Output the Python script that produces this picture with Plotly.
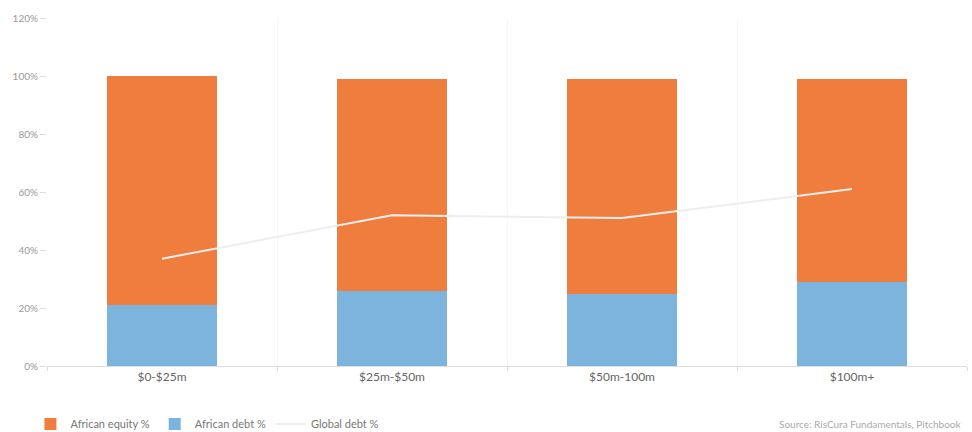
import plotly.graph_objects as go

categories = ["$0-$25m", "$25m-$50m", "$50m-100m", "$100m+"]
african_debt = [21, 26, 25, 29]
african_equity = [79, 73, 74, 70]
global_debt = [37, 52, 51, 61]
y_ticks = [0, 20, 40, 60, 80, 100, 120]
y_tick_labels = [f"{v}%" for v in y_ticks]

ORANGE = "#EE7D3E"
BLUE = "#7DB4DE"
LINE = "#EEEEEE"
GREY = "#8a8a8a"

fig = go.Figure()
fig.add_trace(go.Bar(x=categories, y=african_debt, name="African debt %",
                     marker=dict(color=BLUE, line=dict(width=0)), width=0.48,
                     legendrank=2))
fig.add_trace(go.Bar(x=categories, y=african_equity, name="African equity %",
                     marker=dict(color=ORANGE, line=dict(width=0)), width=0.48,
                     legendrank=1))
fig.add_trace(go.Scatter(x=categories, y=global_debt, name="Global debt %",
                         mode="lines", line=dict(color=LINE, width=2),
                         legendrank=3))

fig.update_layout(
    barmode="stack",
    width=972, height=432,
    margin=dict(l=47, r=5, t=18, b=66, autoexpand=False),
    paper_bgcolor="white", plot_bgcolor="white",
    font=dict(family="Lato, sans-serif", size=10, color=GREY),
    showlegend=True,
    legend=dict(orientation="h", x=-0.018, xanchor="left", y=-0.167, yanchor="middle",
                font=dict(size=11, color="#777777"), traceorder="normal",
                itemwidth=30),
    xaxis=dict(type="category", range=[-0.5, 3.5], showline=True, linecolor="#dddddd",
               linewidth=1, ticks="outside", tickson="boundaries", ticklen=4,
               tickcolor="#dddddd", showgrid=True, gridcolor="#f7f7f7",
               tickfont=dict(size=12, color="#666666"), automargin=False),
    yaxis=dict(range=[0, 120], tickvals=y_ticks, ticktext=y_tick_labels, showgrid=False,
               zeroline=False, ticks="outside", ticklen=6, tickcolor="#dddddd",
               tickfont=dict(size=10, color="#999999"), automargin=False),
    annotations=[dict(text="Source: RisCura Fundamentals, Pitchbook", xref="paper", yref="paper",
                      x=0.997, y=-0.167, xanchor="right", yanchor="middle",
                      showarrow=False, font=dict(size=10, color="#aaaaaa"))],
)

fig.write_html("out.html", config={"displayModeBar": False},
               post_script="document.body.style.margin='0';")
